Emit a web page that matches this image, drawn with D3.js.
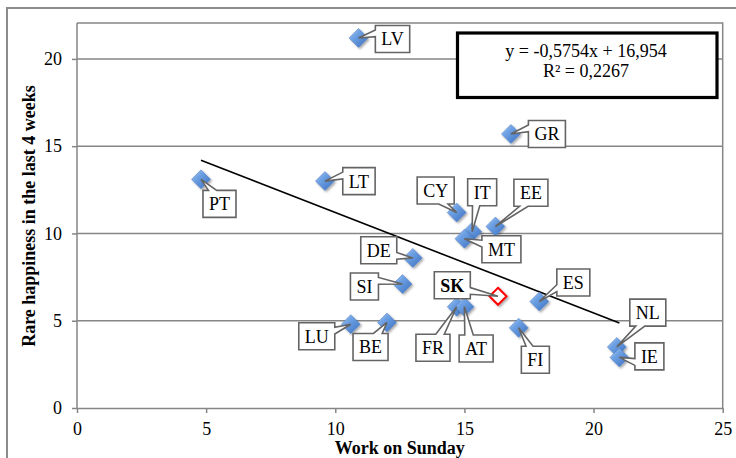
<!DOCTYPE html>
<html>
<head>
<meta charset="utf-8">
<script src="https://cdn.jsdelivr.net/npm/d3@7"></script>
<style>
  html, body { margin: 0; padding: 0; background: #fff; }
  svg { display: block; }
  text { font-family: "Liberation Serif", "Times New Roman", serif; }
</style>
</head>
<body>
<svg id="chart" width="736" height="458"></svg>
<script>
// ---- data ----
const countries     = ["LV","GR","PT","LT","CY","IT","EE","MT","DE","SI","SK","ES","FR","AT","LU","BE","FI","NL","IE"];
const workOnSunday  = [10.9, 16.8, 4.8, 9.6, 14.7, 15.3, 16.2, 15.0, 13.0, 12.6, 16.3, 17.9, 14.7, 15.0, 10.6, 12.0, 17.1, 20.9, 21.0];
const rareHappiness = [21.2, 15.7, 13.1, 13.0, 11.2, 10.1, 10.4, 9.7, 8.6, 7.1, 6.4, 6.1, 5.8, 5.8, 4.8, 4.9, 4.6, 3.5, 2.9];
const highlighted   = "SK";
const xTicks = [0, 5, 10, 15, 20, 25];
const yTicks = [0, 5, 10, 15, 20];
const trendSlope = -0.5754;
const trendIntercept = 16.954;
const equationLines = ["y = -0,5754x  + 16,954", "R\u00B2 = 0,2267"];
const xTitle = "Work on Sunday";
const yTitle = "Rare happiness in the last 4 weeks";

// ---- layout (label box centre offsets from point, px) ----
const labelDx = [34, 36, 18.5, 34, -21, 10, 35.5, 37, -34, -38, -45.7, 34, -23.7, 11.7, -34, -16.4, 16.7, 31, 30];
const labelDy = [1, 0, 24.5, 0, -22, -39.5, -33.7, 10.5, -7.6, 2.4, -11, -19, 41, 41.8, 12, 24.5, 32, -34.3, -1];

const svg = d3.select("#chart");
const gray = "#868686";

const x = d3.scaleLinear().domain([0, 25]).range([77, 722.7]);
const y = d3.scaleLinear().domain([0, 22]).range([408, 24]);

// defs
const defs = svg.append("defs");
const grad = defs.append("linearGradient").attr("id", "dg")
  .attr("x1", 0).attr("y1", 0).attr("x2", 1).attr("y2", 1);
grad.append("stop").attr("offset", "0%").attr("stop-color", "#bcd4f4");
grad.append("stop").attr("offset", "35%").attr("stop-color", "#6fa2e4");
grad.append("stop").attr("offset", "100%").attr("stop-color", "#3a6fc0");
const filt = defs.append("filter").attr("id", "sh").attr("x", "-50%").attr("y", "-50%").attr("width", "200%").attr("height", "200%");
filt.append("feDropShadow").attr("dx", 1.5).attr("dy", 1.5).attr("stdDeviation", 1.2)
  .attr("flood-color", "#000").attr("flood-opacity", 0.35);

// outer chart border (cut at right and bottom)
svg.append("path").attr("d", "M7,458 V8 H736").attr("fill", "none")
  .attr("stroke", "#8c8c8c").attr("stroke-width", 2);

// gridlines
svg.append("g").selectAll("line").data(yTicks.filter(d => d > 0)).join("line")
  .attr("x1", x(0)).attr("x2", x(25)).attr("y1", d => y(d)).attr("y2", d => y(d))
  .attr("stroke", gray).attr("stroke-width", 1.5);

// plot area border (top/right)
svg.append("path").attr("d", `M${x(0)},${y(22)-1} H${x(25)} V${y(0)}`)
  .attr("fill", "none").attr("stroke", gray).attr("stroke-width", 1.5);

// axes
const xAxis = svg.append("g").attr("transform", `translate(0,${y(0)})`)
  .call(d3.axisBottom(x).tickValues(xTicks).tickSize(5).tickPadding(9).tickSizeOuter(0));
const yAxis = svg.append("g").attr("transform", `translate(${x(0)},0)`)
  .call(d3.axisLeft(y).tickValues(yTicks).tickSize(5).tickPadding(10).tickSizeOuter(0));
[xAxis, yAxis].forEach(a => {
  a.select(".domain").attr("stroke", gray).attr("stroke-width", 1.5);
  a.selectAll(".tick line").attr("stroke", gray).attr("stroke-width", 1.5);
  a.selectAll(".tick text").attr("font-family", "Liberation Serif, serif")
    .attr("font-size", 18).attr("fill", "#000");
});
yAxis.select(".domain").attr("d", `M0,${y(0)}V${y(22)-1}`);

// axis titles
svg.append("text").attr("x", (x(0) + x(25)) / 2).attr("y", 454)
  .attr("text-anchor", "middle").attr("font-size", 18).attr("font-weight", "bold").text(xTitle);
svg.append("text").attr("transform", `translate(35,${(y(0) + y(22)) / 2}) rotate(-90)`)
  .attr("text-anchor", "middle").attr("font-size", 18).attr("font-weight", "bold").text(yTitle);

// trend line
const xMin = d3.min(workOnSunday), xMax = d3.max(workOnSunday);
svg.append("line")
  .attr("x1", x(xMin)).attr("y1", y(trendSlope * xMin + trendIntercept))
  .attr("x2", x(xMax)).attr("y2", y(trendSlope * xMax + trendIntercept))
  .attr("stroke", "#000").attr("stroke-width", 1.6);

// markers
const pts = countries.map((c, i) => ({ c, i, px: x(workOnSunday[i]), py: y(rareHappiness[i]) }));
const r = 9.5;
const diamond = (d) => `M${d.px},${d.py - r} L${d.px + r},${d.py} L${d.px},${d.py + r} L${d.px - r},${d.py} Z`;
svg.append("g").selectAll("path").data(pts.filter(d => d.c !== highlighted)).join("path")
  .attr("d", diamond).attr("fill", "url(#dg)").attr("stroke", "#4a7bc4").attr("stroke-width", 0.5)
  .attr("filter", "url(#sh)");
const rh = 8.5;
svg.append("g").selectAll("path").data(pts.filter(d => d.c === highlighted)).join("path")
  .attr("d", d => `M${d.px},${d.py - rh} L${d.px + rh},${d.py} L${d.px},${d.py + rh} L${d.px - rh},${d.py} Z`)
  .attr("fill", "#fff").attr("stroke", "#ff0000").attr("stroke-width", 2)
  .attr("filter", "url(#sh)");

// callout labels (wedge rect callouts)
function calloutPath(x0, y0, w, h, tx, ty) {
  const hc = x0 + w / 2, vc = y0 + h / 2;
  const dxPos = tx - hc, dyPos = ty - vc;
  const dq = dxPos * h / w;
  const dz = Math.abs(dyPos) - Math.abs(dq);
  const xg1 = x0 + (dxPos > 0 ? 7 : 2) * w / 12, xg2 = x0 + (dxPos > 0 ? 10 : 5) * w / 12;
  const yg1 = y0 + (dyPos > 0 ? 7 : 2) * h / 12, yg2 = y0 + (dyPos > 0 ? 10 : 5) * h / 12;
  const x1 = x0 + w, y1 = y0 + h;
  let p = `M${x0},${y0}`;
  // top edge
  if (dz > 0 && dyPos < 0) p += ` L${xg1},${y0} L${tx},${ty} L${xg2},${y0}`;
  p += ` L${x1},${y0}`;
  // right edge
  if (dz <= 0 && dxPos > 0) p += ` L${x1},${yg1} L${tx},${ty} L${x1},${yg2}`;
  p += ` L${x1},${y1}`;
  // bottom edge
  if (dz > 0 && dyPos > 0) p += ` L${xg2},${y1} L${tx},${ty} L${xg1},${y1}`;
  p += ` L${x0},${y1}`;
  // left edge
  if (dz <= 0 && dxPos < 0) p += ` L${x0},${yg2} L${tx},${ty} L${x0},${yg1}`;
  p += " Z";
  return p;
}

const lg = svg.append("g");
pts.forEach(d => {
  const g = lg.append("g");
  const path = g.append("path");
  const t = g.append("text").attr("font-size", 18)
    .attr("font-weight", d.c === highlighted ? "bold" : "normal")
    .attr("text-anchor", "middle").attr("fill", "#000").text(d.c);
  const tw = t.node().getComputedTextLength();
  const w = tw + 12, h = 27;
  const cx = d.px + labelDx[d.i], cy = d.py + labelDy[d.i];
  t.attr("x", cx).attr("y", cy + 6.5);
  path.attr("d", calloutPath(cx - w / 2, cy - h / 2, w, h, d.px, d.py))
    .attr("fill", "#fff").attr("stroke", "#646464").attr("stroke-width", 1.6)
    .attr("stroke-linejoin", "miter");
});

// equation box
svg.append("rect").attr("x", 457.5).attr("y", 33).attr("width", 259.5).attr("height", 64.5)
  .attr("fill", "#fff").attr("stroke", "#000").attr("stroke-width", 3.2);
equationLines.forEach((s, i) => {
  svg.append("text").attr("x", 586).attr("y", 57 + i * 20).attr("text-anchor", "middle")
    .attr("font-size", 18).attr("fill", "#000").text(s);
});
</script>
</body>
</html>
